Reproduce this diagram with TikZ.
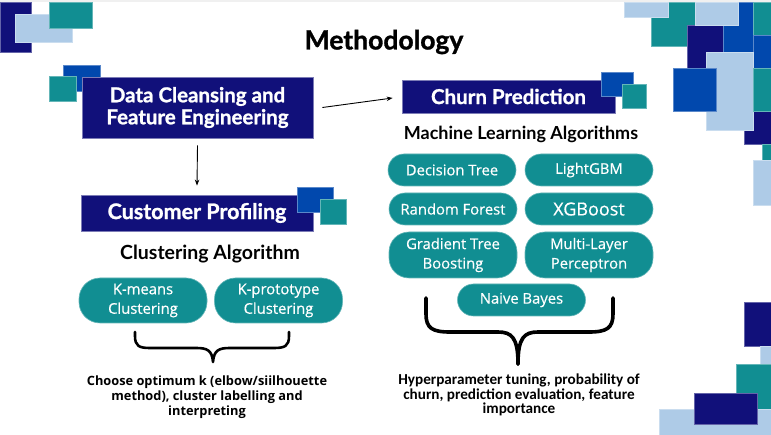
\documentclass[tikz,border=0pt]{standalone}
\usepackage{fontspec}
\setmainfont{Lato}[BoldFeatures={FakeBold=1.1}]
\newfontfamily\headfont{Lato}
\newfontfamily\pillfont{Open Sans}[FakeBold=0.5]
\newfontfamily\notefontL{Open Sans}
\newfontfamily\notefontR{Carlito}
\usetikzlibrary{arrows.meta}
\definecolor{navy}{RGB}{17,16,122}
\definecolor{royal}{RGB}{1,72,173}
\definecolor{tealc}{RGB}{17,142,146}
\definecolor{sky}{RGB}{174,203,231}
\tikzset{
  deco/.style={fill=#1, draw=#1!65!white, line width=0.6pt},
  titlebox/.style={fill=navy, draw=navy!55!white, line width=0.8pt, text=white,
    font=\bfseries\fontsize{20.5}{22}\selectfont, align=center, inner sep=0pt},
  pill/.style={fill=tealc, draw=tealc!65!white, line width=0.6pt, text=white,
    font=\pillfont\fontsize{14.8}{19.5}\selectfont, align=center, inner sep=0pt,
    minimum width=128pt},
  heading/.style={font=\headfont\bfseries\fontsize{18}{20}\selectfont},
  arrowc/.style={-{Stealth[length=6pt,width=4.5pt]}, line width=0.9pt},
  bracec/.style={line cap=round, line join=round},
}
\begin{document}
\begin{tikzpicture}[x=1pt,y=-1pt]
\useasboundingbox (0,0) rectangle (771,435);
\fill[white] (0,0) rectangle (771,435);
\fill[black!6] (0,0) rectangle (771,2);

% top-left decoration
\filldraw[deco=navy] (0,2) rectangle (31,52);
\filldraw[deco=sky] (15,14) rectangle (72,42);
\filldraw[deco=tealc] (49,2) rectangle (92,28);

% top-right decoration
\filldraw[deco=tealc] (651,2) rectangle (695,46);
\filldraw[deco=sky] (624,2) rectangle (668,17);
\filldraw[deco=navy] (687,25) rectangle (740,68);
\filldraw[deco=royal] (723,2) rectangle (753,68);
\filldraw[deco=sky] (695,2) rectangle (738,25);
\filldraw[deco=tealc] (753,2) rectangle (771,35);
\filldraw[deco=royal] (753,35) rectangle (771,68);
\filldraw[deco=navy] (744,111) rectangle (771,144);
\filldraw[deco=sky] (706,52) rectangle (753,130);
\filldraw[deco=royal] (673,68) rectangle (716,111);
\filldraw[deco=tealc] (753,68) rectangle (771,111);
\filldraw[deco=tealc] (762,144) rectangle (771,160);
\filldraw[deco=sky] (753,160) rectangle (771,205);

% bottom-right decoration
\filldraw[deco=navy] (744,302) rectangle (771,346);
\filldraw[deco=sky] (760,346) rectangle (771,364);
\filldraw[deco=tealc] (736,364) rectangle (771,409);
\filldraw[deco=sky] (659,409) rectangle (771,435);
\filldraw[deco=navy] (694,393) rectangle (757,424);

% title
\node[font=\bfseries\fontsize{26.5}{28}\selectfont] (title) at (384,42) {Methodology};

% data cleansing
\filldraw[deco=royal] (63,65) rectangle (100,91);
\filldraw[deco=tealc] (49,76) rectangle (76,101);
\node[titlebox, minimum width=231pt, minimum height=61pt] (dc) at (197.5,107.5)
  {Data Cleansing and\\Feature Engineering};

% customer profiling
\node[titlebox, minimum width=232pt, minimum height=36pt, font=\bfseries\fontsize{21.5}{23}\selectfont] (cp) at (197,213) {Customer Profiling};
\filldraw[deco=royal] (297,187) rectangle (333,212);
\filldraw[deco=tealc] (320,199) rectangle (346,224);

% churn prediction
\node[titlebox, minimum width=213pt, minimum height=33pt] (ch) at (508.5,96.5) {Churn Prediction};
\filldraw[deco=royal] (601,72) rectangle (633,96);
\filldraw[deco=tealc] (622,84) rectangle (646,108);

% arrows
\draw[arrowc] ([yshift=-7pt]dc.south) -- ([yshift=9pt]cp.north);
\draw[arrowc] ([xshift=9pt]dc.east) -- ([xshift=-9pt,yshift=-1.5pt]ch.west);

% headings
\node[heading] (mla) at (521,134) {Machine Learning Algorithms};
\node[heading, font=\headfont\bfseries\fontsize{19.5}{21}\selectfont] (cla) at (210,254) {Clustering Algorithm};

% ML pills
\node[pill, minimum height=32pt, rounded corners=16pt] (dt) at (452,170) {Decision Tree};
\node[pill, minimum height=32pt, rounded corners=16pt] (lg) at (589,170) {LightGBM};
\node[pill, minimum height=32pt, rounded corners=16pt] (rf) at (453,209) {Random Forest};
\node[pill, minimum height=32pt, rounded corners=16pt, font=\pillfont\fontsize{18}{20}\selectfont] (xg) at (589,209) {XGBoost};
\node[pill, minimum height=46pt, rounded corners=20pt] (gb) at (453,255) {Gradient Tree\\Boosting};
\node[pill, minimum height=46pt, rounded corners=20pt] (ml) at (589,255) {Multi-Layer\\Perceptron};
\node[pill, minimum height=32pt, rounded corners=16pt] (nb) at (521.5,300) {Naive Bayes};

% clustering pills
\node[pill, minimum height=45pt, rounded corners=21pt] (km) at (143,300.5) {K-means\\Clustering};
\node[pill, minimum height=45pt, rounded corners=21pt] (kp) at (278.5,300.5) {K-prototype\\Clustering};

% braces
\draw[bracec, line width=2.6pt] (135,332) -- (135,336) .. controls (135,346) and (139,348) .. (150,348)
  -- (196,348) .. controls (207,348) and (212,350) .. (213,362)
  .. controls (214,350) and (219,348) .. (230,348) -- (274,348)
  .. controls (285,348) and (289,346) .. (289,336) -- (289,332);
\draw[bracec, line width=3.6pt] (426,298) -- (426,314) .. controls (426,328) and (432,332) .. (450,332)
  -- (498,332) .. controls (512,332) and (518,338) .. (518,364);
\draw[bracec, line width=3.6pt] (613,298) -- (613,314) .. controls (613,328) and (607,332) .. (589,332)
  -- (538,332) .. controls (524,332) and (518,338) .. (518,364);

% notes
\node[font=\notefontL\bfseries\fontsize{12.8}{15}\selectfont, align=center] (nl) at (207,397)
  {Choose optimum k (elbow/siilhouette\\method), cluster labelling and\\interpreting};
\node[font=\notefontR\bfseries\fontsize{15.2}{14.5}\selectfont, align=center] (nr) at (519,395)
  {Hyperparameter tuning, probability of\\churn, prediction evaluation, feature\\importance};
\end{tikzpicture}
\end{document}
